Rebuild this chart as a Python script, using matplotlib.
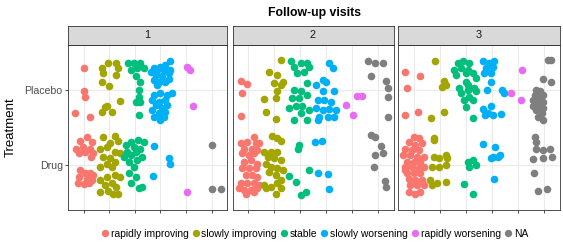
import matplotlib
matplotlib.use("Agg")
import matplotlib.pyplot as plt
from matplotlib.lines import Line2D

plt.rcParams['font.family'] = ['Liberation Sans', 'DejaVu Sans']

title = "Follow-up visits"
y_label = "Treatment"
visits = ["1", "2", "3"]
treatments = ["Drug", "Placebo"]          # y positions 1, 2
outcomes = ["rapidly improving", "slowly improving", "stable",
            "slowly worsening", "rapidly worsening", "NA"]   # x positions 1..6
colors = ["#F8766D", "#A3A500", "#00BF7D", "#00B0F6", "#E76BF3", "#7F7F7F"]

# jittered points (x, y), per visit and outcome
visit1_points = {
    "rapidly improving": [(1.03, 2.29), (1.03, 1.98), (1.06, 1.90), (0.68, 1.69), (1.23, 1.64),
                          (0.85, 1.32), (1.15, 1.38), (1.32, 1.30), (0.72, 1.22), (0.97, 1.24),
                          (1.23, 1.22), (1.38, 1.16), (0.81, 1.16), (1.06, 1.18), (1.28, 1.11),
                          (0.87, 0.93), (1.06, 0.89), (1.26, 0.90), (1.38, 0.87), (0.81, 0.84),
                          (1.13, 0.82), (1.32, 0.80), (0.77, 0.76), (1.00, 0.75), (1.19, 0.76)],
    "slowly improving": [(1.71, 2.29), (1.96, 2.36), (2.28, 2.36), (2.35, 2.29), (1.77, 2.22),
                         (2.28, 2.20), (1.71, 2.11), (2.00, 2.05), (2.41, 1.85), (1.83, 1.77),
                         (1.71, 1.71), (2.09, 1.70), (1.90, 1.79),
                         (1.77, 1.37), (2.22, 1.39), (2.35, 1.32), (2.03, 1.29), (1.64, 1.22),
                         (1.90, 1.24), (2.22, 1.18), (2.41, 1.16), (1.77, 1.11), (2.03, 1.09),
                         (2.22, 1.04), (1.62, 0.98), (1.90, 1.02), (2.09, 0.98), (1.64, 0.80),
                         (1.90, 0.84), (2.22, 0.87), (2.41, 0.84), (1.83, 0.73), (2.09, 0.76),
                         (1.64, 0.64), (1.96, 0.66), (2.28, 0.71), (2.35, 0.62), (2.15, 0.62)],
    "stable": [(2.74, 2.36), (2.96, 2.36), (3.22, 2.36), (2.83, 2.27), (3.09, 2.29),
               (3.35, 2.29), (3.03, 2.18), (3.22, 2.11), (3.15, 2.00), (3.15, 1.91),
               (3.22, 1.84), (3.03, 1.84), (3.18, 1.67),
               (2.64, 1.27), (2.83, 1.30), (3.13, 1.33), (3.35, 1.30), (2.71, 1.18),
               (2.96, 1.24), (3.22, 1.22), (2.58, 1.11), (2.83, 1.13), (3.03, 1.18),
               (3.28, 1.11), (2.77, 1.04), (3.09, 1.07), (2.96, 0.98), (2.77, 0.89),
               (3.03, 0.84), (2.83, 0.76), (3.15, 0.69), (3.28, 0.71)],
    "slowly worsening": [(3.74, 2.29), (4.00, 2.31), (4.19, 2.33), (4.38, 2.38), (3.62, 2.24),
                         (3.87, 2.27), (4.13, 2.27), (4.38, 2.27), (3.81, 2.20), (4.06, 2.18),
                         (4.32, 2.22), (3.74, 2.13), (3.94, 2.11), (4.19, 2.11), (3.87, 2.07),
                         (4.32, 2.14), (3.74, 1.93), (4.00, 1.96), (4.26, 1.93), (4.46, 1.96),
                         (3.68, 1.87), (3.94, 1.84), (4.19, 1.87), (3.81, 1.80), (4.06, 1.76),
                         (4.26, 1.80), (3.68, 1.73), (3.94, 1.69), (4.19, 1.71), (3.74, 1.64),
                         (4.00, 1.60), (4.13, 1.64),
                         (3.74, 1.25), (4.32, 1.09), (4.38, 1.02), (3.72, 0.85)],
    "rapidly worsening": [(5.04, 2.30), (5.17, 2.27), (5.29, 1.79), (5.04, 0.64)],
    "NA": [(6.03, 1.27), (6.00, 0.68), (6.35, 0.68)],
}

visit2_points = {
    "rapidly improving": [(0.72, 2.12), (0.97, 2.08), (0.78, 1.96), (0.74, 1.65),
                          (1.23, 1.38), (0.72, 1.29), (0.97, 1.31), (1.29, 1.29), (1.42, 1.29),
                          (0.85, 1.22), (1.17, 1.22), (1.36, 1.20), (0.78, 1.16), (1.04, 1.13),
                          (1.23, 1.16), (0.85, 1.04), (1.10, 1.07), (1.36, 1.02), (0.78, 0.96),
                          (1.04, 0.96), (1.30, 0.96), (0.91, 0.87), (1.17, 0.87), (1.36, 0.84),
                          (0.72, 0.76), (0.97, 0.76), (1.23, 0.76), (1.42, 0.73), (0.65, 0.69),
                          (0.85, 0.67), (1.10, 0.67), (1.36, 0.69), (0.91, 0.62), (1.23, 0.64)],
    "slowly improving": [(2.26, 2.40), (1.81, 2.24), (2.13, 2.20), (2.00, 2.09), (2.26, 2.07),
                         (2.13, 1.98), (1.62, 1.88), (2.06, 1.89), (1.68, 1.71), (2.06, 1.61),
                         (2.33, 2.11),
                         (1.94, 1.39), (2.13, 1.36), (2.26, 1.32), (1.62, 1.18), (1.88, 1.18),
                         (2.13, 1.18), (1.75, 1.11), (2.00, 1.09), (2.26, 1.07), (1.68, 1.02),
                         (1.88, 0.98), (2.13, 0.96), (2.33, 0.93), (1.81, 0.91), (2.06, 0.87),
                         (2.26, 0.80), (1.62, 0.73), (1.88, 0.71), (2.13, 0.76), (2.06, 0.62),
                         (2.26, 0.69), (1.68, 0.69)],
    "stable": [(2.64, 2.39), (2.77, 2.31), (3.03, 2.36), (3.26, 2.36), (3.35, 2.31),
               (2.90, 2.22), (3.15, 2.24), (3.28, 2.09), (2.77, 2.00), (3.03, 1.98),
               (3.28, 1.93), (2.71, 1.89), (2.96, 1.89), (2.59, 1.76), (2.85, 1.78),
               (3.09, 1.78), (3.35, 1.73), (2.77, 1.60), (3.28, 1.60), (3.03, 1.69),
               (2.97, 1.27), (2.91, 1.22), (3.35, 0.93), (2.59, 0.85), (2.85, 0.78),
               (3.03, 0.60), (3.22, 0.64)],
    "slowly worsening": [(4.13, 2.36), (4.26, 2.29), (3.87, 2.13), (4.00, 2.10), (3.61, 2.07),
                         (3.87, 1.98), (4.32, 1.99), (3.68, 1.87), (3.94, 1.87), (4.19, 1.84),
                         (3.61, 1.76), (3.87, 1.73), (4.13, 1.74), (4.39, 1.73), (3.74, 1.64),
                         (4.06, 1.64), (4.32, 1.64), (3.68, 1.60),
                         (3.58, 1.31), (3.84, 1.32), (3.71, 0.90), (4.06, 0.88), (4.13, 0.68)],
    "rapidly worsening": [(4.78, 1.80), (5.04, 1.66), (5.19, 1.92), (5.40, 1.92)],
    "NA": [(5.61, 2.38), (5.87, 2.36), (6.19, 2.36), (5.74, 2.18), (6.32, 2.12),
           (6.39, 2.02), (6.39, 1.91), (6.40, 1.64),
           (5.74, 1.40), (5.87, 1.38), (6.13, 1.25), (5.87, 1.13), (6.19, 1.16),
           (5.85, 0.97), (6.26, 0.79), (6.32, 0.71)],
}

visit3_points = {
    "rapidly improving": [(0.68, 2.24), (1.26, 2.19), (0.74, 2.03), (0.68, 1.67), (1.17, 1.70),
                          (1.00, 1.38), (1.19, 1.36), (0.81, 1.31), (1.06, 1.27), (1.32, 1.29),
                          (0.68, 1.22), (0.94, 1.20), (1.19, 1.20), (0.61, 1.13), (0.87, 1.13),
                          (1.13, 1.11), (1.39, 1.11), (0.74, 1.04), (1.00, 1.04), (1.26, 1.04),
                          (0.68, 0.98), (0.94, 0.98), (1.19, 0.96), (1.39, 0.98), (0.74, 0.89),
                          (1.00, 0.89), (1.26, 0.89), (0.81, 0.82), (1.06, 0.80), (1.32, 0.80),
                          (0.87, 0.73), (1.13, 0.73), (1.39, 0.73), (0.81, 0.64), (1.06, 0.62),
                          (1.26, 0.64), (0.68, 0.93)],
    "slowly improving": [(1.83, 2.38), (2.15, 2.12), (2.22, 2.07), (2.09, 2.04), (1.68, 1.63),
                         (2.15, 1.70),
                         (1.77, 1.36), (1.77, 1.33), (1.77, 1.10), (1.96, 1.09), (2.22, 1.13),
                         (2.28, 1.09), (1.70, 0.98), (1.96, 0.98), (2.22, 1.00), (1.64, 0.80),
                         (1.90, 0.76), (2.22, 0.78), (1.70, 0.73)],
    "stable": [(2.68, 2.36), (2.87, 2.39), (3.13, 2.36), (2.55, 2.27), (2.81, 2.29),
               (3.06, 2.27), (2.61, 2.20), (3.00, 2.22), (3.26, 2.22), (3.00, 2.11),
               (3.39, 2.16), (2.74, 2.02), (3.06, 2.00), (3.32, 2.02), (2.81, 1.96),
               (3.13, 1.91), (3.39, 1.98), (2.94, 1.87), (3.26, 1.87), (3.00, 1.77),
               (3.28, 1.63), (3.06, 2.07),
               (3.06, 1.04), (3.26, 1.07), (3.39, 1.00), (3.13, 0.98), (2.94, 0.75),
               (3.26, 0.62)],
    "slowly worsening": [(3.67, 2.39), (3.87, 2.36), (4.09, 2.38), (3.77, 2.29), (4.03, 2.31),
                         (3.70, 2.22), (3.96, 2.22), (3.96, 2.11), (3.79, 2.00), (4.39, 2.00),
                         (4.44, 1.96), (3.67, 1.74), (3.96, 1.78), (3.83, 1.69), (4.03, 1.67),
                         (4.35, 1.68), (3.74, 1.67),
                         (3.67, 1.28), (4.12, 1.24), (4.03, 1.11), (4.22, 1.10), (4.31, 1.13),
                         (3.96, 1.09), (4.09, 0.82)],
    "rapidly worsening": [(5.13, 2.26), (4.74, 1.96), (5.09, 1.87)],
    "NA": [(6.15, 2.40), (6.24, 2.40), (5.96, 2.14), (6.24, 2.10), (5.70, 2.00),
           (5.83, 1.98), (5.64, 1.93), (5.77, 1.91), (5.96, 1.93), (5.58, 1.87),
           (5.77, 1.84), (5.96, 1.84), (5.64, 1.80), (5.83, 1.78), (5.96, 1.76),
           (5.70, 1.73), (5.90, 1.69), (5.77, 1.64), (5.96, 1.60), (5.58, 1.78),
           (5.64, 1.37), (5.68, 1.30), (5.70, 1.22), (5.96, 1.20), (6.22, 1.21),
           (6.28, 1.11), (5.58, 1.08), (5.96, 1.09), (5.60, 0.90), (5.77, 0.66),
           (6.12, 0.68)],
}

all_visits = [visit1_points, visit2_points, visit3_points]

# ---------------- layout ----------------
W, H = 563, 250
fig = plt.figure(figsize=(W / 100, H / 100), dpi=100)
panels_px = [(68.3, 227.0), (232.5, 393.5), (398.0, 560.0)]
top_px, bottom_px = 45, 210
strip_h = 19

border = "#333333"
grid_c = "#EBEBEB"

for i, (l, r) in enumerate(panels_px):
    ax = fig.add_axes([l / W, 1 - bottom_px / H, (r - l) / W, (bottom_px - top_px) / H])
    ax.set_xlim(0.4, 6.6)
    ax.set_ylim(0.4, 2.6)
    ax.set_xticks(range(1, len(outcomes) + 1))
    ax.set_xticklabels([])
    ax.set_yticks([1, 2])
    ax.grid(True, color=grid_c, lw=0.8)
    ax.set_axisbelow(True)
    for s in ax.spines.values():
        s.set_color(border)
        s.set_linewidth(0.6)
    ax.tick_params(axis='both', length=2.5, width=0.6, color=border,
                   labelsize=7.6, labelcolor="#4D4D4D", pad=1.5)
    if i == 0:
        ax.set_yticklabels(treatments)
    else:
        ax.set_yticklabels([])
        ax.tick_params(axis='y', length=0)
    pts = all_visits[i]
    for name, col in zip(outcomes, colors):
        p = pts[name]
        ax.scatter([q[0] for q in p], [q[1] for q in p], s=30, color=col,
                   linewidths=0, zorder=3)
    # strip
    sax = fig.add_axes([l / W, 1 - top_px / H, (r - l) / W, strip_h / H])
    sax.set_facecolor("#D9D9D9")
    sax.set_xticks([]); sax.set_yticks([])
    for s in sax.spines.values():
        s.set_color(border)
        s.set_linewidth(0.6)
    sax.text(0.5, 0.5, visits[i], ha='center', va='center', fontsize=7.8,
             color="#1A1A1A", transform=sax.transAxes)

fig.text(314 / W, 1 - 13 / H, title, ha='center', va='center',
         fontsize=8.8, fontweight='bold')
fig.text(11 / W, 1 - 127 / H, y_label, ha='center', va='center',
         rotation=90, fontsize=9.5)

handles = [Line2D([], [], marker='o', linestyle='', markersize=5.3,
                  markerfacecolor=c, markeredgewidth=0) for c in colors]
fig.legend(handles, outcomes, loc='center', bbox_to_anchor=(314 / W, 1 - 234 / H),
           ncol=6, frameon=False, fontsize=7.4, handletextpad=0.05,
           columnspacing=0.2, handlelength=1.0, borderaxespad=0)

fig.savefig("out.png", dpi=100)
